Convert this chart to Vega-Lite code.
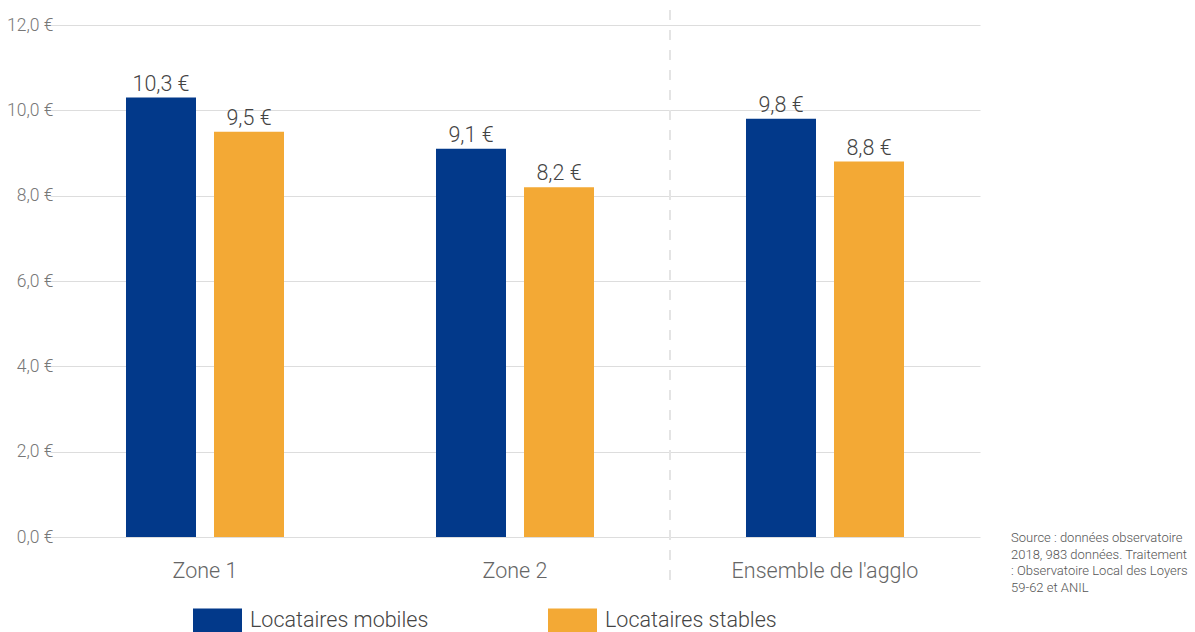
{
  "$schema": "https://vega.github.io/schema/vega-lite/v6.json",
  "autosize": "none",
  "width": 930,
  "height": 512,
  "padding": {"left": 50, "top": 25, "right": 215, "bottom": 95},
  "background": "white",
  "title": {
    "text": ["Source : données observatoire", "2018, 983 données. Traitement", ": Observatoire Local des Loyers", "59-62 et ANIL"],
    "orient": "bottom",
    "anchor": "end",
    "frame": "group",
    "align": "left",
    "baseline": "top",
    "dx": 31,
    "dy": -101,
    "offset": 0,
    "font": "Roboto",
    "fontSize": 13,
    "fontWeight": 300,
    "lineHeight": 16.5,
    "color": "#555555"
  },
  "config": {
    "view": {"stroke": null},
    "font": "Roboto",
    "locale": {
      "number": {"decimal": ",", "thousands": " ", "grouping": [3], "currency": ["", " €"]}
    }
  },
  "data": {
    "values": [
      {"zone": "Zone 1", "groupe": "Locataires mobiles", "loyer": 10.3},
      {"zone": "Zone 1", "groupe": "Locataires stables", "loyer": 9.5},
      {"zone": "Zone 2", "groupe": "Locataires mobiles", "loyer": 9.1},
      {"zone": "Zone 2", "groupe": "Locataires stables", "loyer": 8.2},
      {"zone": "Ensemble de l'agglo", "groupe": "Locataires mobiles", "loyer": 9.8},
      {"zone": "Ensemble de l'agglo", "groupe": "Locataires stables", "loyer": 8.8}
    ]
  },
  "encoding": {
    "x": {
      "field": "zone",
      "type": "nominal",
      "sort": ["Zone 1", "Zone 2", "Ensemble de l'agglo"],
      "scale": {"paddingInner": 0, "paddingOuter": 0},
      "axis": {
        "title": null,
        "domain": false,
        "ticks": false,
        "labelAngle": 0,
        "labelFont": "Roboto",
        "labelFontWeight": 300,
        "labelFontSize": 21.5,
        "labelColor": "#666666",
        "labelPadding": 23,
        "labelLimit": 400
      }
    },
    "y": {
      "field": "loyer",
      "type": "quantitative",
      "scale": {"domain": [0, 12], "nice": false, "zero": true},
      "axis": {
        "title": null,
        "domain": false,
        "ticks": false,
        "values": [0, 2, 4, 6, 8, 10, 12],
        "format": "$.1f",
        "labelFont": "Roboto",
        "labelFontWeight": 300,
        "labelFontSize": 17.5,
        "labelColor": "#777777",
        "labelPadding": -3,
        "gridColor": "#dddddd",
        "gridWidth": 1
      }
    }
  },
  "layer": [
    {
      "mark": {"type": "rule", "strokeDash": [10, 10], "strokeWidth": 2, "color": "#e4e4e4"},
      "encoding": {
        "x": {"datum": "Ensemble de l'agglo", "bandPosition": 0},
        "y": {"datum": 12.35},
        "y2": {"datum": -1.15}
      }
    },
    {
      "mark": {"type": "bar"},
      "encoding": {
        "xOffset": {
          "field": "groupe",
          "scale": {"paddingInner": 0.2045, "paddingOuter": 0.8636}
        },
        "color": {
          "field": "groupe",
          "type": "nominal",
          "scale": {"range": ["#02398a", "#f3a935"]},
          "legend": {
            "title": null,
            "orient": "none",
            "direction": "horizontal",
            "legendX": 143,
            "legendY": 571,
            "padding": 0,
            "symbolType": "M-1,-0.5H1V0.5H-1Z",
            "symbolSize": 2401,
            "symbolStrokeWidth": 0,
            "symbolOpacity": 1,
            "labelFont": "Roboto",
            "labelFontWeight": 300,
            "labelFontSize": 21.5,
            "labelColor": "#444444",
            "labelOffset": 8,
            "labelLimit": 400,
            "columnPadding": 119
          }
        }
      }
    },
    {
      "mark": {"type": "text", "baseline": "alphabetic", "dy": -7, "font": "Roboto", "fontWeight": 300, "fontSize": 21.5, "color": "#444444"},
      "encoding": {
        "xOffset": {"field": "groupe"},
        "text": {"field": "loyer", "type": "quantitative", "format": "$.1f"}
      }
    }
  ]
}
